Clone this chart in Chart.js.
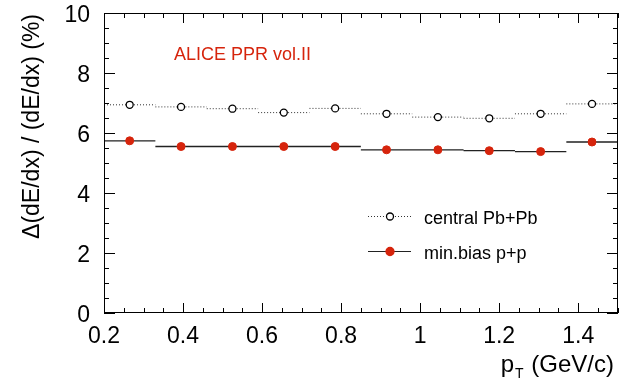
<!DOCTYPE html>
<html>
<head>
<meta charset="utf-8">
<script src="https://cdn.jsdelivr.net/npm/chart.js@4/dist/chart.umd.min.js"></script>
<style>
    body { margin: 0; background: #fff; }
    #chart { display: block; }
</style>
</head>
<body>
<canvas id="chart" width="623" height="385"></canvas>
<script>
// pT bins (GeV/c)
const binEdges = [0.20, 0.33, 0.46, 0.59, 0.72, 0.85, 0.98, 1.11, 1.24, 1.37, 1.50];
const binCenters = [0.265, 0.395, 0.525, 0.655, 0.785, 0.915, 1.045, 1.175, 1.305, 1.435];

// resolution (%)
const centralPbPb = [6.94, 6.87, 6.81, 6.68, 6.82, 6.64, 6.53, 6.49, 6.64, 6.97];
const minBiasPP = [5.74, 5.55, 5.55, 5.55, 5.55, 5.44, 5.44, 5.41, 5.38, 5.70];

const xTicks = [0.2, 0.4, 0.6, 0.8, 1.0, 1.2, 1.4];
const yTicks = [0, 2, 4, 6, 8, 10];

const seriesLabels = ['central Pb+Pb', 'min.bias p+p'];
const RED = '#d6240c';
const AXIS = '#000000';
const FONT = '"Liberation Sans", Arial, Helvetica, sans-serif';

function binSegments(values) {
    const pts = [];
    values.forEach((v, i) => {
        pts.push({ x: binEdges[i], y: v });
        pts.push({ x: binEdges[i + 1], y: v });
        pts.push({ x: binEdges[i + 1], y: null });
    });
    return pts;
}

function markers(values) {
    return values.map((v, i) => ({ x: binCenters[i], y: v }));
}

// frame, inward ticks, legend, label and axis titles
const annotations = {
    id: 'annotations',
    afterDraw(chart) {
        const ctx = chart.ctx;
        const xs = chart.scales.x;
        const ys = chart.scales.y;
        const L = Math.round(xs.getPixelForValue(0.2));
        const R = Math.round(xs.getPixelForValue(1.5)) - 1;
        const T = Math.round(ys.getPixelForValue(10));
        const B = Math.round(ys.getPixelForValue(0)) - 1;
        ctx.save();
        ctx.fillStyle = AXIS;
        ctx.fillRect(L, T, R - L + 1, 1);
        ctx.fillRect(L, B, R - L + 1, 1);
        ctx.fillRect(L, T, 1, B - T + 1);
        ctx.fillRect(R, T, 1, B - T + 1);
        for (let i = 0; i <= 26; i++) {
            const px = Math.round(xs.getPixelForValue(0.2 + i * 0.05));
            const len = (i % 4 === 0) ? 10 : 5;
            ctx.fillRect(px, B - len + 1, 1, len);
            ctx.fillRect(px, T, 1, len);
        }
        for (let i = 0; i <= 20; i++) {
            const py = Math.round(ys.getPixelForValue(i * 0.5));
            const len = (i % 4 === 0) ? 11 : 5;
            ctx.fillRect(L, py, len, 1);
            ctx.fillRect(R - len + 1, py, len, 1);
        }

        ctx.fillStyle = RED;
        ctx.font = '18px ' + FONT;
        ctx.textBaseline = 'middle';
        ctx.textAlign = 'left';
        ctx.fillText('ALICE PPR vol.II', 174, 55);

        const rows = [
            { y: 216, dash: [1, 2], color: '#333', fill: '#fff', stroke: '#000', r: 3.5 },
            { y: 251, dash: [], color: '#222', fill: RED, stroke: RED, r: 4 }
        ];
        rows.forEach((row, i) => {
            ctx.setLineDash(row.dash);
            ctx.strokeStyle = row.color;
            ctx.lineWidth = 1;
            ctx.beginPath();
            ctx.moveTo(368, row.y + 0.5); ctx.lineTo(411, row.y + 0.5);
            ctx.stroke();
            ctx.setLineDash([]);
            ctx.beginPath();
            ctx.arc(390, row.y + 0.5, row.r, 0, Math.PI * 2);
            ctx.fillStyle = row.fill;
            ctx.fill();
            ctx.lineWidth = 1.3;
            ctx.strokeStyle = row.stroke;
            ctx.stroke();
            ctx.fillStyle = '#000';
            ctx.font = '18px ' + FONT;
            ctx.fillText(seriesLabels[i], 424, row.y + 3);
        });

        // x title with subscript T
        ctx.fillStyle = '#000';
        ctx.textBaseline = 'alphabetic';
        const big = '24px ' + FONT, small = '14px ' + FONT;
        ctx.font = big;
        const wp = ctx.measureText('p').width;
        const wrest = ctx.measureText(' (GeV/c)').width;
        ctx.font = small;
        const wt = ctx.measureText('T').width + 2;
        const x0 = 614 - wp - wt - wrest;
        ctx.font = big;
        ctx.fillText('p', x0, 372);
        ctx.font = small;
        ctx.fillText('T', x0 + wp + 1, 378);
        ctx.font = big;
        ctx.fillText(' (GeV/c)', x0 + wp + wt, 372);

        // y title
        ctx.translate(33, 14);
        ctx.rotate(-Math.PI / 2);
        ctx.textAlign = 'right';
        ctx.textBaseline = 'middle';
        ctx.font = '23px ' + FONT;
        ctx.fillText('\u0394(dE/dx) / (dE/dx) (%)', 0, 0);
        ctx.restore();
    }
};

new Chart(document.getElementById('chart'), {
    type: 'line',
    data: {
        datasets: [
            {
                label: seriesLabels[0],
                data: markers(centralPbPb),
                showLine: false,
                pointRadius: 3.5,
                pointBorderWidth: 1.3,
                pointBackgroundColor: '#fff',
                pointBorderColor: '#000',
                order: 0
            },
            {
                label: seriesLabels[1],
                data: markers(minBiasPP),
                showLine: false,
                pointRadius: 4,
                pointBorderWidth: 1,
                pointBackgroundColor: RED,
                pointBorderColor: RED,
                order: 0
            },
            {
                data: binSegments(centralPbPb),
                borderColor: '#333',
                borderWidth: 1,
                borderDash: [1, 2],
                pointRadius: 0,
                spanGaps: false,
                order: 1
            },
            {
                data: binSegments(minBiasPP),
                borderColor: '#222',
                borderWidth: 1.3,
                pointRadius: 0,
                spanGaps: false,
                order: 1
            }
        ]
    },
    options: {
        responsive: false,
        animation: false,
        layout: { padding: { left: 0, right: 4, top: 13, bottom: 0 } },
        plugins: {
            legend: { display: false },
            tooltip: { enabled: false }
        },
        scales: {
            x: {
                type: 'linear',
                min: 0.2,
                max: 1.5,
                grid: { display: false, drawTicks: false },
                border: { display: false },
                afterBuildTicks: scale => { scale.ticks = xTicks.map(v => ({ value: v })); },
                afterFit: scale => {
                    scale.height = 72;
                    scale.paddingLeft = 0;
                    scale.paddingRight = 0;
                },
                ticks: {
                    color: '#000',
                    font: { family: FONT, size: 23 },
                    padding: 10,
                    maxRotation: 0,
                    autoSkip: false,
                    callback: v => String(Math.round(v * 10) / 10)
                }
            },
            y: {
                min: 0,
                max: 10,
                grid: { display: false, drawTicks: false },
                border: { display: false },
                afterBuildTicks: scale => { scale.ticks = yTicks.map(v => ({ value: v })); },
                afterFit: scale => {
                    scale.width = 104;
                    scale.paddingTop = 0;
                    scale.paddingBottom = 0;
                },
                ticks: {
                    color: '#000',
                    font: { family: FONT, size: 23 },
                    padding: 14,
                    labelOffset: 3,
                    callback: v => String(v)
                }
            }
        }
    },
    plugins: [annotations]
});
</script>
</body>
</html>
